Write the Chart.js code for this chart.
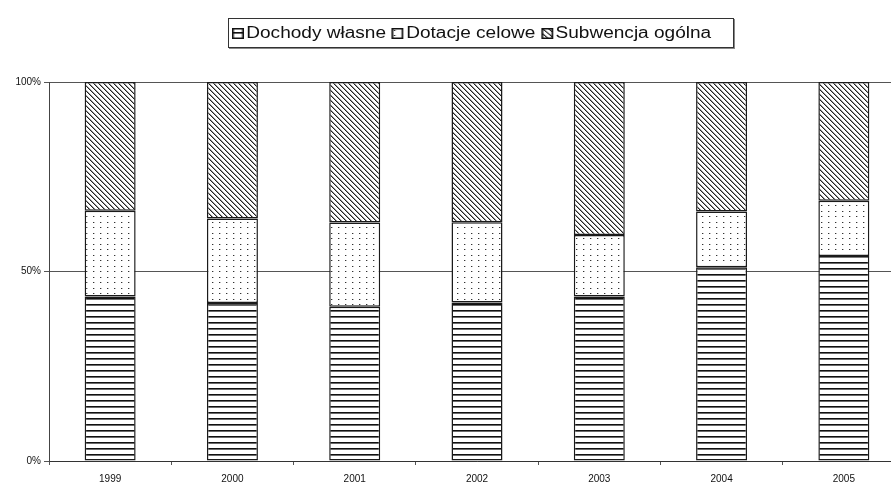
<!DOCTYPE html>
<html>
<head>
<meta charset="utf-8">
<script src="https://cdn.jsdelivr.net/npm/chart.js@4"></script>
<style>
  html, body { margin: 0; padding: 0; background: #fff; overflow: hidden; width: 891px; height: 484px; }
  #wrap { position: absolute; left: 0; top: 0; width: 905px; height: 484px; }
  #legend {
    position: absolute; left: 228px; top: 18px; width: 504px; height: 28px;
    border: 1px solid #333; box-shadow: 1px 1px 0 #888; background: #fff;
    font: 16px "Liberation Sans", Arial, sans-serif; color: #111;
  }
  #legend .row {
    position: absolute; left: 3px; top: 5px; display: flex; align-items: center; white-space: nowrap;
    transform: scaleX(1.19); transform-origin: 0 50%;
  }
  #legend .item { display: flex; align-items: center; margin-right: 5px; }
  #legend canvas { display: block; margin-right: 2px; }
</style>
</head>
<body>
<div id="wrap"><canvas id="c" width="905" height="484"></canvas></div>
<div id="legend"><div class="row" id="legendRow"></div></div>
<script>
// Budget revenue structure by year (percent of total)
const years = ['1999', '2000', '2001', '2002', '2003', '2004', '2005'];
const seriesNames = ['Dochody własne', 'Dotacje celowe', 'Subwencja ogólna'];
const dochodyWlasne = [43.4, 41.7, 40.7, 41.8, 43.4, 51.1, 54.1];
const dotacjeCelowe = [22.6, 22.3, 22.2, 21.2, 16.2, 14.7, 14.6];
const subwencjaOgolna = [34.0, 36.0, 37.1, 37.0, 40.4, 34.2, 31.3];
const yTicks = [0, 50, 100];

// Fill patterns: horizontal stripes, sparse dots, diagonal hatch
function makeTile(w, h, draw) {
  const t = document.createElement('canvas');
  t.width = w; t.height = h;
  const g = t.getContext('2d');
  g.fillStyle = '#fff';
  g.fillRect(0, 0, w, h);
  draw(g);
  return t;
}
const stripeTile = makeTile(8, 6, g => {
  g.fillStyle = '#111'; g.fillRect(0, 4, 8, 1);
  g.fillStyle = '#6a6a6a'; g.fillRect(0, 5, 8, 1);
});
const dotTile = makeTile(7, 11, g => {
  g.fillStyle = '#333';
  g.fillRect(2, 2, 1, 1);
  g.fillRect(2, 7, 1, 1);
  g.fillStyle = '#bbb';
  g.fillRect(3, 2, 1, 1);
  g.fillRect(3, 7, 1, 1);
});
const hatchTile = makeTile(5, 5, g => {
  for (let i = 0; i < 5; i++) {
    g.fillStyle = '#222'; g.fillRect(i, i, 1, 1);
    g.fillStyle = '#999'; g.fillRect((i + 1) % 5, i, 1, 1);
  }
});
const tiles = [stripeTile, dotTile, hatchTile];
const ctx = document.getElementById('c').getContext('2d');
const fills = tiles.map(t => ctx.createPattern(t, 'repeat'));

// Legend with pattern swatches
const legendRow = document.getElementById('legendRow');
seriesNames.forEach((name, i) => {
  const item = document.createElement('div');
  item.className = 'item';
  const sw = document.createElement('canvas');
  sw.width = 10; sw.height = 11;
  const sg = sw.getContext('2d');
  sg.fillStyle = sg.createPattern(tiles[i], 'repeat');
  sg.fillRect(0, 0, 10, 11);
  sg.strokeStyle = '#111'; sg.lineWidth = 1.5;
  sg.strokeRect(0.75, 0.75, 8.5, 9.5);
  const label = document.createElement('span');
  label.textContent = name;
  item.appendChild(sw);
  item.appendChild(label);
  legendRow.appendChild(item);
});

const tickFont = { family: '"Liberation Sans", Arial, sans-serif', size: 10 };

new Chart(ctx, {
  type: 'bar',
  data: {
    labels: years,
    datasets: [dochodyWlasne, dotacjeCelowe, subwencjaOgolna].map((vals, i) => ({
      label: seriesNames[i],
      data: vals,
      backgroundColor: fills[i],
      borderColor: '#1a1a1a',
      borderWidth: 1.5,
      borderSkipped: false,
      barPercentage: 0.417,
      categoryPercentage: 1.0
    }))
  },
  options: {
    responsive: false,
    animation: false,
    events: [],
    layout: { padding: { top: 82, right: 0, bottom: 0, left: 0 } },
    plugins: { legend: { display: false }, tooltip: { enabled: false } },
    scales: {
      x: {
        stacked: true,
        grid: { display: true, drawOnChartArea: false, offset: true, tickLength: 4, color: '#555' },
        border: { color: '#333', width: 1 },
        ticks: { color: '#111', font: tickFont, padding: 8, maxRotation: 0 },
        afterFit: s => { s.height = 23; }
      },
      y: {
        stacked: true,
        min: 0, max: 100,
        afterBuildTicks: s => { s.ticks = yTicks.map(v => ({ value: v })); },
        grid: { color: '#555', tickLength: 5, lineWidth: 1 },
        border: { color: '#444', width: 1 },
        ticks: { color: '#111', font: tickFont, padding: 3, callback: v => v + '%' },
        afterFit: s => { s.width = 49; }
      }
    }
  }
});
</script>
</body>
</html>
